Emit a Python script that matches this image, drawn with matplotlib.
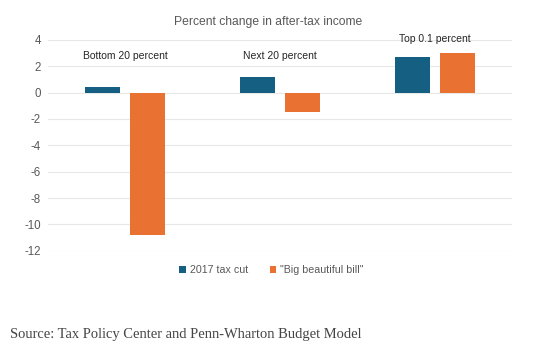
import matplotlib
matplotlib.use("Agg")
import matplotlib.pyplot as plt
import numpy as np

groups = ["Bottom 20 percent", "Next 20 percent", "Top 0.1 percent"]
series_names = ["2017 tax cut", "\"Big beautiful bill\""]
tax_cut_2017 = [0.4, 1.2, 2.7]
big_bill = [-10.8, -1.5, 3.0]
label_y = [2.75, 2.75, 4.05]
yticks = [4, 2, 0, -2, -4, -6, -8, -10, -12]

plt.rcParams['font.family'] = ['Liberation Sans', 'DejaVu Sans']

fig = plt.figure(figsize=(5.6, 3.44), dpi=100)
ax = fig.add_axes([0.0857, 0.271, 0.8286, 0.613])

x = np.arange(len(groups))
w = 0.226
off = 0.145
b1 = ax.bar(x - off, tax_cut_2017, w, color="#156082", label=series_names[0], zorder=3)
b2 = ax.bar(x + off, big_bill, w, color="#E97132", label=series_names[1], zorder=3)

for i, g in enumerate(groups):
    ax.text(x[i], label_y[i], g, ha="center", va="center", fontsize=7.5, color="#262626")

ax.set_xlim(-0.5, len(groups) - 0.5)
ax.set_ylim(-12, 4)
ax.set_yticks(yticks)
ax.set_yticklabels([str(t) for t in yticks])
ax.tick_params(axis="y", length=0, labelsize=8.3, labelcolor="#595959", pad=5)
ax.set_xticks([])
ax.grid(axis="y", color="#e8e8e8", linewidth=0.8, zorder=0)
for s in ax.spines.values():
    s.set_visible(False)

fig.text(0.478, 0.935, "Percent change in after-tax income", ha="center", va="center",
         fontsize=8.7, color="#595959")

fig.legend(handles=[b1, b2], loc="center", bbox_to_anchor=(0.485, 0.215), ncol=2,
           frameon=False, fontsize=7.7, handlelength=0.6, handleheight=0.6,
           columnspacing=2.0, handletextpad=0.4, labelcolor="#595959")

fig.text(0.018, 0.028, "Source: Tax Policy Center and Penn-Wharton Budget Model",
         ha="left", va="center", fontsize=10.45, color="#444444", family="Liberation Serif")

fig.savefig("out.png", dpi=100)
